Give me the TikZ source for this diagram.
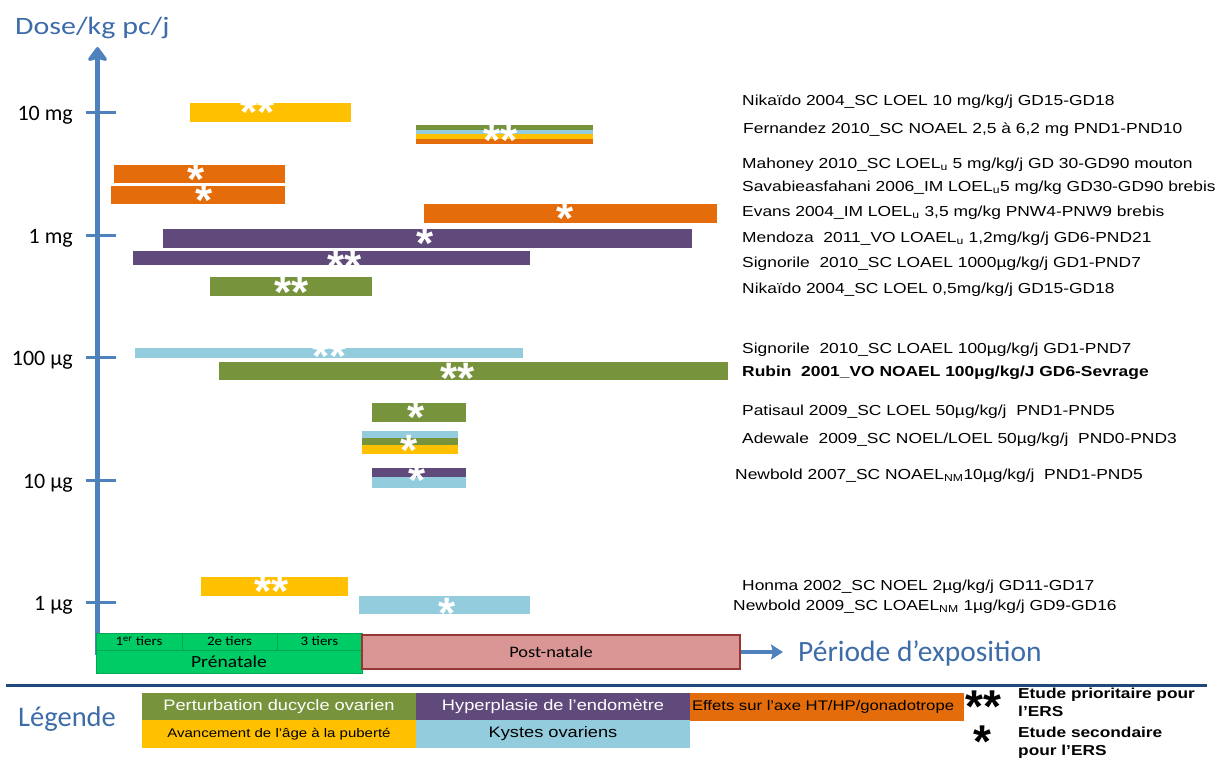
\documentclass[tikz,border=0pt]{standalone}
\usepackage{fontspec}
\setmainfont{Liberation Sans}
\newfontfamily\labfont{Liberation Sans}[FakeStretch=1.2]
\newfontfamily\starfont{Liberation Sans}
\newfontfamily\calfont{Carlito}
\newfontfamily\calwide{Carlito}[FakeStretch=1.15]
\newfontfamily\calwider{Carlito}[FakeStretch=1.2]
\usetikzlibrary{arrows.meta}

\definecolor{axisblue}{HTML}{4F81BD}
\definecolor{titleblue}{HTML}{3D6CA8}
\definecolor{cyellow}{HTML}{FFC000}
\definecolor{corange}{HTML}{E46C0A}
\definecolor{cpurple}{HTML}{604A7B}
\definecolor{cgreen}{HTML}{77933C}
\definecolor{cblue}{HTML}{93CDDD}
\definecolor{prenat}{HTML}{00CC66}
\definecolor{prenatline}{HTML}{00A852}
\definecolor{postnat}{HTML}{D99694}
\definecolor{postnatline}{HTML}{953735}
\definecolor{rulecol}{HTML}{1F497D}

% an asterisk mark whose glyph centre sits on the node centre
\newcommand{\mk}[1]{\raisebox{-0.48em}[0.12em][0.12em]{#1}}

\begin{document}
\begin{tikzpicture}[x=1pt,y=-1pt,
  lab/.style={anchor=base west, inner sep=0pt, font=\labfont\fontsize{14.5}{16}\selectfont},
  ticklab/.style={anchor=base east, inner sep=0pt, font=\calfont\fontsize{22}{24}\selectfont},
  title/.style={anchor=base west, inner sep=0pt, text=titleblue},
  wstar/.style={inner sep=0pt, text=white, font=\starfont\bfseries\fontsize{44}{44}\selectfont},
  bstar/.style={inner sep=0pt, text=black, font=\starfont\bfseries\fontsize{46}{46}\selectfont},
  tick/.style={axisblue, line width=3pt},
  tier/.style={draw=prenatline, line width=0.8pt, fill=prenat, inner sep=0pt, minimum height=17pt,
    font=\calwide\fontsize{13}{14}\selectfont},
  legbox/.style={inner sep=0pt, minimum width=274pt, font=\labfont\fontsize{15.2}{16}\selectfont},
  legnote/.style={anchor=base west, inner sep=0pt,
    font=\labfont\bfseries\fontsize{14.4}{18}\selectfont}]

\useasboundingbox (0,0) rectangle (1220,758);

% ---------- axes ----------
\coordinate (origin) at (97.5,652);
\coordinate (ytip) at (97.5,47);
\coordinate (xtip) at (783,652);
\draw[axisblue, line width=3.5pt, -{Stealth[length=12pt,width=15pt,inset=2pt]}] (origin) -- (xtip);
\draw[axisblue, line width=5.5pt, -{Stealth[length=16pt,width=23pt,inset=3pt,round]}] ([yshift=-3pt]origin) -- (ytip);

\node[title, font=\calwider\fontsize{25}{28}\selectfont] (ytitle) at (15,34) {Dose/kg pc/j};
\node[title, font=\calfont\fontsize{29.5}{31}\selectfont] (xtitle) at (798,661.5) {Période d’exposition};

% dose ticks
\foreach \yy/\nm/\txt in {112/t10mg/10 mg, 235/t1mg/1 mg, 357/t100ug/100 µg, 480/t10ug/10 µg, 602/t1ug/1 µg}{
  \draw[tick] (86,\yy) -- (116,\yy);
  \node[ticklab] (\nm) at (73,\yy+8) {\txt};
}

% ---------- study bars ----------
% 10 mg region
\fill[cyellow] (190,103) rectangle (351,122);
\fill[cgreen]  (416,125) rectangle (593,129.5);
\fill[cblue]   (416,129.5) rectangle (593,134);
\fill[cyellow] (416,134) rectangle (593,138.5);
\fill[corange] (416,138.5) rectangle (593,144);
\fill[corange] (114,165) rectangle (285,183);
\fill[corange] (111,186) rectangle (285,204);
\fill[corange] (424,204) rectangle (717,223);
% 1 mg region
\fill[cpurple] (163,229) rectangle (692,247.5);
\fill[cpurple] (133,251) rectangle (530,265);
\fill[cgreen]  (210,277) rectangle (372,296);
% 100 ug region
\fill[cblue]   (135,348) rectangle (523,358);
\fill[cgreen]  (218.5,362) rectangle (728,380);
\fill[cgreen]  (372,403) rectangle (466,422);
\fill[cblue]   (362,431) rectangle (458,438);
\fill[cgreen]  (362,438) rectangle (458,445);
\fill[cyellow] (362,445) rectangle (458,454);
\fill[cpurple] (372,468) rectangle (466,477);
\fill[cblue]   (372,477) rectangle (466,488);
% 1 ug region
\fill[cyellow] (201,577) rectangle (348,596);
\fill[cblue]   (359,596) rectangle (530,614);

% priority marks on the bars
\node[wstar] (m1)  at (258,106) {\mk{**}};
\node[wstar] (m2)  at (500.5,134) {\mk{**}};
\node[wstar] (m3)  at (196.5,173) {\mk{*}};
\node[wstar] (m4)  at (204,194) {\mk{*}};
\node[wstar] (m5)  at (565.5,212) {\mk{*}};
\node[wstar] (m6)  at (425.5,237) {\mk{*}};
\node[wstar] (m7)  at (345,260) {\mk{**}};
\node[wstar] (m8)  at (292,286) {\mk{**}};
\node[wstar] (m9)  at (330,350) {\mk{**}};
\node[wstar] (m10) at (458,372) {\mk{**}};
\node[wstar] (m11) at (416,411) {\mk{*}};
\node[wstar] (m12) at (409,444) {\mk{*}};
\node[wstar] (m13) at (417,474) {\mk{*}};
\node[wstar] (m14) at (272,585) {\mk{**}};
\node[wstar] (m15) at (447,607) {\mk{*}};

% ---------- study labels ----------
\node[lab] (l1)  at (742,105) {Nikaïdo 2004\_SC LOEL 10 mg/kg/j GD15-GD18};
\node[lab] (l2)  at (743,133) {Fernandez 2010\_SC NOAEL 2,5 à 6,2 mg PND1-PND10};
\node[lab] (l3)  at (742,168) {Mahoney 2010\_SC LOEL\textsubscript{u} 5 mg/kg/j GD 30-GD90 mouton};
\node[lab] (l4)  at (742,191) {Savabieasfahani 2006\_IM LOEL\textsubscript{u}5 mg/kg GD30-GD90 brebis};
\node[lab] (l5)  at (742,216) {Evans 2004\_IM LOEL\textsubscript{u} 3,5 mg/kg PNW4-PNW9 brebis};
\node[lab] (l6)  at (742,242) {Mendoza\ \ 2011\_VO LOAEL\textsubscript{u} 1,2mg/kg/j GD6-PND21};
\node[lab] (l7)  at (742,267) {Signorile\ \ 2010\_SC LOAEL 1000µg/kg/j GD1-PND7};
\node[lab] (l8)  at (742,293) {Nikaïdo 2004\_SC LOEL 0,5mg/kg/j GD15-GD18};
\node[lab] (l9)  at (742,353) {Signorile\ \ 2010\_SC LOAEL 100µg/kg/j GD1-PND7};
\node[lab, font=\labfont\bfseries\fontsize{14.5}{16}\selectfont] (l10) at (742,376) {Rubin\ \ 2001\_VO NOAEL 100µg/kg/J GD6-Sevrage};
\node[lab] (l11) at (742,415) {Patisaul 2009\_SC LOEL 50µg/kg/j\ \ PND1-PND5};
\node[lab] (l12) at (742,443) {Adewale\ \ 2009\_SC NOEL/LOEL 50µg/kg/j\ \ PND0-PND3};
\node[lab] (l13) at (735,479) {Newbold 2007\_SC NOAEL\textsubscript{NM}10µg/kg/j\ \ PND1-PND5};
\node[lab] (l14) at (742,590) {Honma 2002\_SC NOEL 2µg/kg/j GD11-GD17};
\node[lab] (l15) at (733,610) {Newbold 2009\_SC LOAEL\textsubscript{NM} 1µg/kg/j GD9-GD16};

% ---------- exposure periods ----------
\node[tier, minimum width=86pt] (tier1) at (139,641.5) {1\textsuperscript{er} tiers};
\node[tier, minimum width=95pt] (tier2) at (229.5,641.5) {2e tiers};
\node[tier, minimum width=85pt] (tier3) at (319.5,641.5) {3 tiers};
\node[draw=prenatline, line width=0.8pt, fill=prenat, inner sep=0pt, minimum width=266pt, minimum height=23pt,
  font=\calwide\fontsize{17}{18}\selectfont] (prenatale) at (229,661.5) {Prénatale};
\node[draw=postnatline, line width=1.5pt, fill=postnat, inner sep=0pt, minimum width=378pt, minimum height=34pt,
  font=\calwide\fontsize{16}{18}\selectfont] (postnatale) at (551,652) {Post-natale};

% ---------- legend ----------
\draw[rulecol, line width=3pt] (6,685) -- (1207,685);
\node[title, font=\calfont\fontsize{28.5}{30}\selectfont] (legtitle) at (18,726) {Légende};

\node[legbox, fill=cgreen, minimum height=27pt, text=white] (lg1) at (279,706.5) {Perturbation ducycle ovarien};
\node[legbox, fill=cyellow, minimum height=28pt, font=\labfont\fontsize{12.5}{14}\selectfont] (lg2) at (279,734) {Avancement de l’âge à la puberté};
\node[legbox, fill=cpurple, minimum height=27pt, text=white] (lg3) at (553,706.5) {Hyperplasie de l’endomètre};
\node[legbox, fill=cblue, minimum height=28pt] (lg4) at (553,734) {\raisebox{3pt}{Kystes ovariens}};
\node[legbox, fill=corange, minimum height=28pt, text width=270pt, align=left,
  font=\labfont\fontsize{13.9}{15}\selectfont] (lg5) at (827,707) {Effets sur l’axe HT/HP/gonadotrope};

\node[bstar] (k2) at (983.5,700) {\mk{**}};
\node[bstar] (k1) at (982,735) {\mk{*}};
\node[legnote] (n2a) at (1018,698) {Etude prioritaire pour};
\node[legnote] (n2b) at (1018,716) {l’ERS};
\node[legnote] (n1a) at (1018,737) {Etude secondaire};
\node[legnote] (n1b) at (1018,755) {pour l’ERS};

\end{tikzpicture}
\end{document}
